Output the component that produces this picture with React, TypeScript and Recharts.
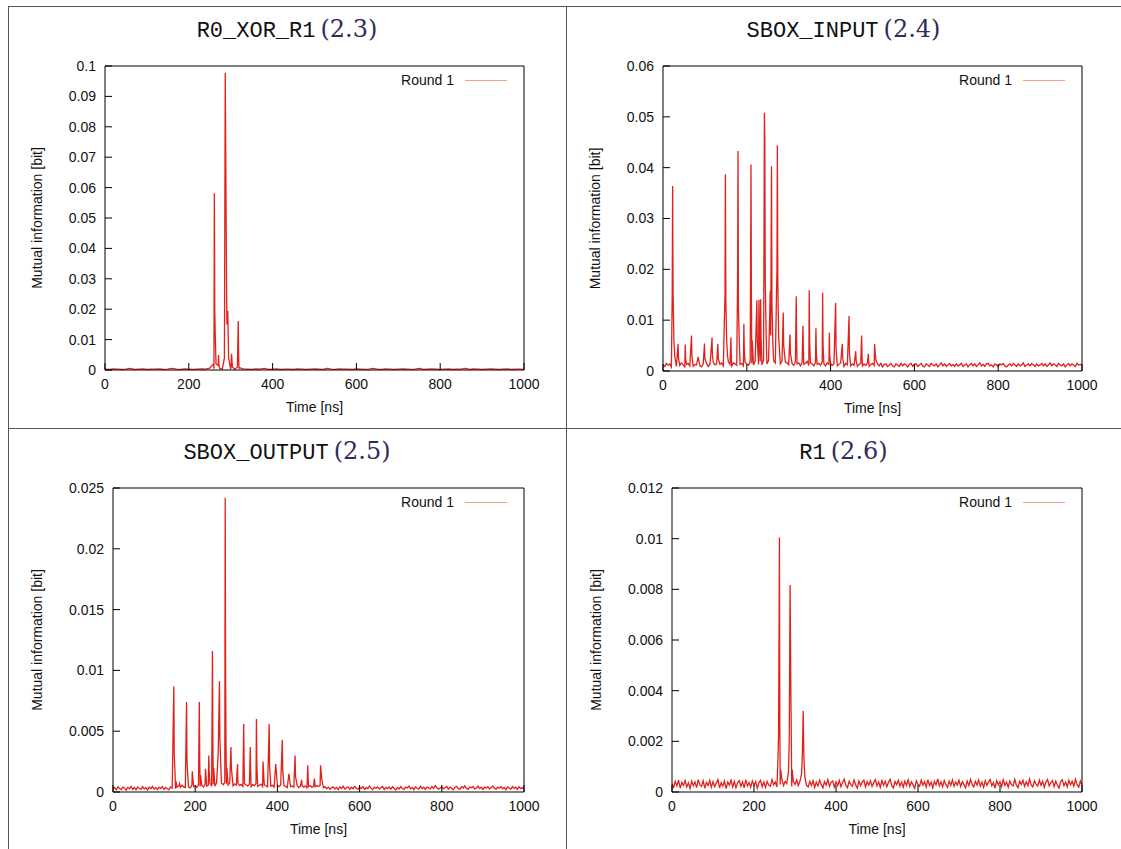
import React from "react";
import { LineChart, Line, XAxis, YAxis } from "recharts";

const TIME_TICKS = [0, 200, 400, 600, 800, 1000];

// R0_XOR_R1 (2.3): values in 1e-4 bit, baseline sampled every 10 ns
const r0Unit = 1e-4;
const r0Step = 10;
const r0Base = [
  3, 2, 4, 3, 2, 3, 5, 2, 3, 4,
  2, 3, 3, 4, 2, 3, 5, 3, 2, 4,
  3, 2, 3, 4, 3, 6, 4, 5, 3, 4,
  3, 2, 4, 3, 3, 2, 4, 3, 5, 2,
  3, 4, 2, 3, 3, 2, 4, 3, 2, 3,
  4, 3, 2, 5, 3, 2, 4, 3, 3, 2,
  4, 3, 2, 3, 5, 3, 2, 4, 3, 2,
  3, 4, 3, 2, 3, 5, 2, 3, 4, 3,
  2, 3, 4, 2, 3, 3, 5, 2, 4, 3,
  2, 3, 4, 3, 2, 3, 4, 2, 3, 3,
  2,
];
const r0SpikeT = [259, 261, 262, 263, 265, 270, 271, 272, 274, 285, 287, 289, 290, 291, 293, 295, 301, 302, 304, 316, 318, 319, 321];
const r0SpikeV = [20, 581, 200, 118, 20, 15, 49, 15, 5, 40, 978, 526, 300, 150, 195, 40, 15, 53, 10, 10, 161, 40, 8];
const r0Ticks = [0, 0.01, 0.02, 0.03, 0.04, 0.05, 0.06, 0.07, 0.08, 0.09, 0.1];

// SBOX_INPUT (2.4): values in 1e-4 bit, baseline every 4 ns
const inUnit = 1e-4;
const inStep = 4;
const inBase = [
  12, 9, 15, 11, 14, 8, 15, 12, 9, 14, 11, 16, 12, 8, 13, 15, 10, 14, 9, 13, 12, 16, 10, 8, 14,
  12, 15, 9, 13, 10, 17, 12, 14, 9, 13, 16, 10, 15, 12, 18, 13, 10, 16, 14, 11, 19, 13, 15, 10, 17,
  14, 11, 18, 15, 12, 20, 16, 13, 19, 12, 22, 17, 14, 21, 18, 13, 20, 16, 23, 17, 14, 19, 13, 18, 16,
  12, 17, 15, 11, 18, 14, 16, 10, 17, 13, 15, 19, 11, 16, 14, 10, 17, 13, 15, 11, 18, 14, 10, 16, 13,
  15, 11, 14, 17, 10, 13, 16, 11, 9, 15, 12, 17, 10, 14, 11, 16, 9, 13, 15, 10, 14, 11, 16, 9, 13,
  15, 11, 9, 14, 10, 15, 8, 13, 14, 9, 12, 15, 10, 8, 14, 12, 9, 15, 10, 14, 12, 8, 13, 15, 9,
  13, 14, 9, 12, 15, 10, 8, 14, 12, 9, 15, 12, 10, 14, 8, 12, 16, 10, 14, 9, 12, 15, 10, 13, 9,
  14, 10, 12, 15, 9, 12, 14, 8, 12, 15, 10, 14, 9, 12, 16, 10, 13, 9, 14, 15, 10, 12, 8, 14, 12,
  9, 14, 12, 15, 10, 8, 12, 14, 10, 15, 12, 9, 14, 10, 12, 16, 9, 12, 14, 10, 15, 12, 9, 14, 10,
  12, 15, 10, 14, 9, 12, 16, 10, 14, 12, 9, 15, 12, 10, 14, 8, 12, 15, 10, 14, 12, 9, 15, 12, 13,
  12,
];
const inSpikeT = [
  22, 23, 24, 26, 28, 36, 37, 53, 54, 68, 69, 84, 99, 100, 116, 117, 118, 131, 132,
  148, 149, 150, 152, 154, 162, 163, 178, 179, 180, 182, 193, 194, 209, 210, 211, 213,
  224, 225, 229, 230, 233, 234, 241, 242, 243, 244, 246, 256, 257, 259, 260, 262,
  272, 273, 274, 276, 287, 288, 303, 304, 318, 319, 334, 335, 349, 350, 365, 366,
  381, 382, 397, 398, 412, 413, 428, 429, 444, 445, 460, 461, 474, 475, 490, 491, 505, 506, 508,
];
const inSpikeV = [
  150, 364, 156, 60, 30, 53, 25, 52, 24, 70, 30, 28, 54, 25, 52, 66, 30, 53, 24,
  150, 387, 138, 60, 30, 66, 30, 180, 433, 129, 60, 93, 40, 190, 406, 140, 60,
  139, 60, 140, 70, 141, 70, 250, 508, 454, 178, 80, 158, 70, 403, 134, 60,
  200, 444, 175, 70, 115, 50, 72, 35, 147, 55, 89, 40, 159, 55, 84, 35,
  154, 50, 75, 30, 134, 45, 53, 25, 108, 35, 39, 20, 70, 30, 34, 18, 53, 40, 22,
];
const inTicks = [0, 0.01, 0.02, 0.03, 0.04, 0.05, 0.06];

// SBOX_OUTPUT (2.5): values in 1e-5 bit, baseline every 4 ns
const outUnit = 1e-5;
const outStep = 4;
const outBase = [
  26, 38, 18, 42, 28, 20, 40, 33, 16, 38, 26, 45, 22, 36, 18, 41, 29, 21, 44, 25, 37, 17, 40, 27, 46,
  24, 36, 19, 40, 28, 44, 21, 38, 26, 18, 41, 31, 48, 27, 39, 50, 38, 56, 42, 36, 52, 40, 34, 58, 43,
  50, 38, 60, 45, 54, 41, 66, 48, 57, 70, 52, 62, 47, 76, 64, 55, 72, 60, 80, 68, 57, 74, 62, 50, 67,
  56, 71, 53, 62, 46, 68, 58, 50, 65, 43, 60, 52, 69, 47, 56, 64, 45, 59, 51, 42, 61, 48, 55, 40, 57,
  50, 44, 58, 41, 53, 46, 37, 55, 43, 50, 39, 48, 54, 36, 46, 52, 40, 49, 34, 45, 53, 38, 47, 42, 51,
  46, 54, 39, 34, 44, 27, 40, 22, 36, 43, 25, 38, 19, 41, 29, 47, 24, 35, 42, 21, 39, 27, 45, 31, 23,
  40, 28, 44, 21, 37, 27, 48, 32, 18, 39, 29, 42, 24, 36, 46, 20, 38, 28, 41, 23, 43, 31, 17, 37, 25,
  45, 29, 22, 40, 33, 49, 26, 38, 19, 42, 31, 24, 47, 28, 39, 21, 41, 34, 25, 44, 29, 52, 35, 23, 33,
  42, 26, 37, 46, 24, 40, 31, 18, 39, 47, 28, 23, 43, 33, 50, 29, 22, 41, 35, 45, 25, 32, 48, 28, 39,
  21, 41, 31, 44, 25, 36, 49, 29, 23, 40, 32, 46, 26, 38, 19, 42, 33, 24, 45, 29, 39, 22, 43, 28, 36,
  27,
];
const outSpikeT = [
  148, 149, 151, 153, 162, 179, 180, 182, 193, 210, 211, 213, 225, 233, 234,
  242, 243, 245, 256, 259, 260, 262, 273, 274, 275, 277, 287, 288, 303, 318, 319,
  334, 335, 349, 350, 365, 380, 381, 396, 412, 413, 428, 443, 444, 459, 474, 475, 490,
  505, 506, 508, 510,
];
const outSpikeV = [
  870, 310, 150, 90, 70, 740, 260, 130, 170, 740, 280, 140, 190, 300, 180,
  1160, 400, 200, 320, 910, 440, 250, 2420, 950, 380, 200, 370, 200, 230, 560, 220,
  370, 180, 600, 230, 250, 560, 210, 230, 430, 180, 150, 300, 130, 100, 220, 100, 110,
  220, 180, 110, 70,
];
const outTicks = [0, 0.005, 0.01, 0.015, 0.02, 0.025];

// R1 (2.6): values in 1e-5 bit, baseline every 4 ns
const r1Unit = 1e-5;
const r1Step = 4;
const r1Base = [
  32, 18, 42, 24, 47, 15, 38, 26, 45, 20, 36, 14, 43, 25, 40, 17, 49, 28, 22, 44, 15, 38, 26, 46, 19,
  41, 21, 35, 49, 16, 37, 23, 43, 13, 39, 27, 47, 20, 42, 17, 36, 45, 22, 40, 16, 48, 24, 38, 19, 44,
  26, 41, 15, 37, 46, 21, 39, 18, 42, 27, 23, 49, 28, 40, 20, 44, 30, 51, 25, 42, 33, 27, 46, 22, 41,
  30, 48, 25, 43, 23, 40, 50, 27, 20, 42, 26, 45, 18, 39, 24, 47, 29, 16, 41, 27, 49, 22, 38, 44, 19,
  40, 25, 46, 21, 37, 51, 26, 17, 42, 30, 23, 48, 28, 15, 43, 25, 39, 47, 20, 41, 27, 44, 22, 37, 49,
  24, 40, 18, 45, 27, 42, 21, 38, 50, 25, 16, 41, 29, 46, 23, 39, 19, 43, 26, 48, 22, 40, 28, 15, 44,
  30, 23, 47, 27, 41, 20, 49, 25, 39, 17, 42, 28, 52, 24, 40, 21, 45, 29, 18, 43, 26, 48, 23, 39, 27,
  46, 22, 41, 29, 16, 43, 25, 50, 30, 20, 42, 27, 47, 23, 39, 18, 44, 26, 40, 49, 24, 37, 15, 45, 28,
  41, 21, 48, 26, 39, 19, 43, 29, 24, 50, 27, 17, 42, 30, 46, 22, 40, 25, 51, 28, 20, 44, 31, 23, 47,
  26, 42, 18, 40, 49, 24, 37, 45, 21, 43, 27, 16, 41, 48, 25, 39, 20, 46, 28, 42, 23, 50, 29, 19, 43,
  27,
];
const r1SpikeT = [258, 260, 262, 263, 265, 267, 284, 286, 288, 289, 290, 291, 293, 316, 318, 320, 321, 322, 324];
const r1SpikeV = [110, 230, 1005, 260, 90, 60, 80, 200, 817, 616, 380, 220, 90, 70, 150, 320, 200, 120, 60];
const r1Ticks = [0, 0.002, 0.004, 0.006, 0.008, 0.01, 0.012];

type Pt = { t: number; v: number };

function buildSeries(step: number, base: number[], spikeT: number[], spikeV: number[], unit: number): Pt[] {
  const taken = new Set(spikeT);
  const pts: Pt[] = [];
  base.forEach((v, i) => {
    const t = i * step;
    if (!taken.has(t)) pts.push({ t, v: v * unit });
  });
  spikeT.forEach((t, i) => pts.push({ t, v: spikeV[i] * unit }));
  pts.sort((a, b) => a.t - b.t);
  return pts;
}

const LINE_RED = "#e2211b";
const SANS = '"Liberation Sans", Arial, Helvetica, sans-serif';
const tickStyle = { fill: "#111", fontSize: 14, fontFamily: SANS };

type PanelProps = {
  name: string;
  num: string;
  data: Pt[];
  yTicks: number[];
  yMax: number;
  cellLeft: number;
  cellWidth: number;
  titleTop: number;
  px: number;
  py: number;
  pw: number;
  ph: number;
  yw: number;
};

function Panel({ name, num, data, yTicks, yMax, cellLeft, cellWidth, titleTop, px, py, pw, ph, yw }: PanelProps) {
  const xh = 74;
  const padTop = 12;
  const padRight = 30;
  return (
    <>
      <div
        style={{
          position: "absolute",
          left: cellLeft,
          top: titleTop,
          width: cellWidth,
          textAlign: "center",
          lineHeight: "28px",
          whiteSpace: "nowrap",
        }}
      >
        <span style={{ fontFamily: '"Liberation Mono", monospace', fontSize: 22, color: "#111" }}>{name}</span>
        <span style={{ fontFamily: '"DejaVu Serif", serif', fontSize: 24, color: "#2e2e5c", marginLeft: 5 }}>{num}</span>
      </div>
      <div style={{ position: "absolute", left: px - yw, top: py - padTop }}>
        <LineChart
          width={yw + pw + padRight}
          height={padTop + ph + xh}
          data={data}
          margin={{ top: padTop - 1, right: padRight - 1, bottom: 0, left: 0 }}
        >
          <XAxis
            xAxisId="b"
            type="number"
            dataKey="t"
            domain={[0, 1000]}
            ticks={TIME_TICKS}
            interval={0}
            allowDataOverflow
            height={xh}
            tickSize={-7}
            tickMargin={16}
            stroke="#000"
            tick={tickStyle}
            label={{ value: "Time [ns]", position: "center", fill: "#111", fontSize: 14, fontFamily: SANS }}
          />
          <XAxis
            xAxisId="t"
            orientation="top"
            type="number"
            dataKey="t"
            domain={[0, 1000]}
            ticks={TIME_TICKS}
            interval={0}
            allowDataOverflow
            height={1}
            tickSize={-7}
            stroke="#000"
            tick={false}
          />
          <YAxis
            yAxisId="l"
            type="number"
            domain={[0, yMax]}
            ticks={yTicks}
            interval={0}
            allowDataOverflow
            width={yw}
            tickSize={-7}
            tickMargin={16}
            stroke="#000"
            tick={tickStyle}
            label={{ value: "Mutual information [bit]", angle: -90, position: "center", fill: "#111", fontSize: 14, fontFamily: SANS }}
          />
          <YAxis
            yAxisId="r"
            orientation="right"
            type="number"
            domain={[0, yMax]}
            ticks={yTicks}
            interval={0}
            allowDataOverflow
            width={1}
            tickSize={-7}
            stroke="#000"
            tick={false}
          />
          <Line
            xAxisId="b"
            yAxisId="l"
            type="linear"
            dataKey="v"
            stroke={LINE_RED}
            strokeWidth={1.3}
            dot={false}
            isAnimationActive={false}
          />
        </LineChart>
      </div>
      <div
        style={{
          position: "absolute",
          left: px + pw - 170,
          top: py + 5,
          width: 100,
          textAlign: "right",
          fontFamily: SANS,
          fontSize: 14,
          lineHeight: "18px",
          color: "#111",
        }}
      >
        Round 1
      </div>
      <div style={{ position: "absolute", left: px + pw - 59, top: py + 14, width: 42, height: 1, background: "#f4a088" }} />
    </>
  );
}

const r0Data = buildSeries(r0Step, r0Base, r0SpikeT, r0SpikeV, r0Unit);
const inData = buildSeries(inStep, inBase, inSpikeT, inSpikeV, inUnit);
const outData = buildSeries(outStep, outBase, outSpikeT, outSpikeV, outUnit);
const r1Data = buildSeries(r1Step, r1Base, r1SpikeT, r1SpikeV, r1Unit);

const rule = "#555";

export default function App() {
  return (
    <div style={{ position: "absolute", left: 0, top: 0, width: 1121, height: 849, background: "#fff", overflow: "hidden" }}>
      <div style={{ position: "absolute", left: 8, top: 6, width: 1113, height: 1, background: rule }} />
      <div style={{ position: "absolute", left: 8, top: 428, width: 1113, height: 1, background: rule }} />
      <div style={{ position: "absolute", left: 8, top: 6, width: 1, height: 843, background: rule }} />
      <div style={{ position: "absolute", left: 566, top: 6, width: 1, height: 843, background: rule }} />

      <Panel name="R0_XOR_R1" num="(2.3)" data={r0Data} yTicks={r0Ticks} yMax={0.1}
        cellLeft={8} cellWidth={558} titleTop={15} px={105} py={66} pw={419} ph={304} yw={136} />
      <Panel name="SBOX_INPUT" num="(2.4)" data={inData} yTicks={inTicks} yMax={0.06}
        cellLeft={566} cellWidth={555} titleTop={15} px={663} py={66} pw={419} ph={305} yw={136} />
      <Panel name="SBOX_OUTPUT" num="(2.5)" data={outData} yTicks={outTicks} yMax={0.025}
        cellLeft={8} cellWidth={558} titleTop={437} px={113} py={488} pw={411} ph={304} yw={152} />
      <Panel name="R1" num="(2.6)" data={r1Data} yTicks={r1Ticks} yMax={0.012}
        cellLeft={566} cellWidth={555} titleTop={437} px={672} py={488} pw={410} ph={304} yw={152} />
    </div>
  );
}
